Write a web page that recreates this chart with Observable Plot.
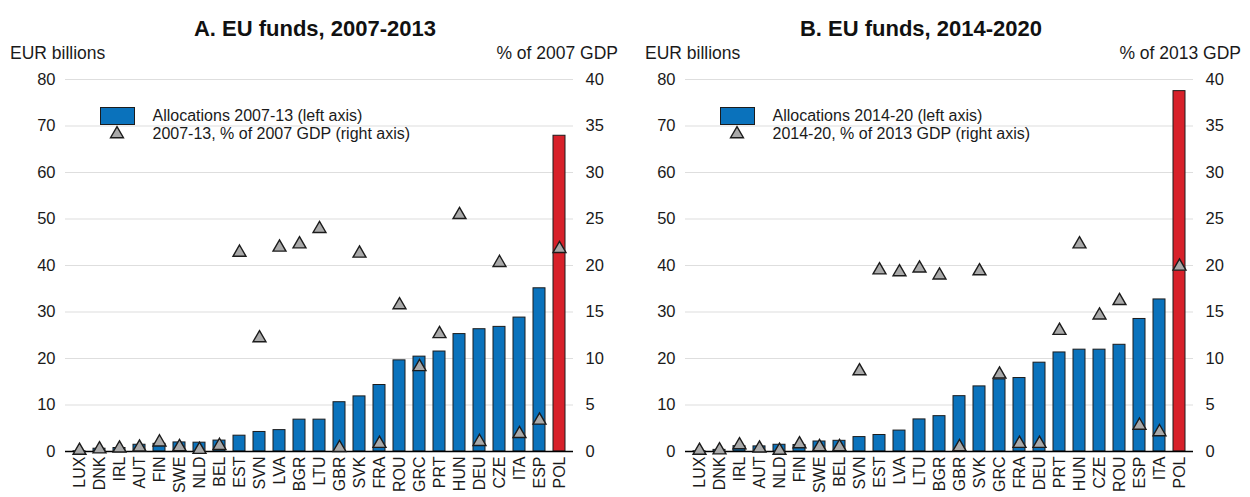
<!DOCTYPE html>
<html>
<head>
<meta charset="utf-8">
<script src="https://cdn.jsdelivr.net/npm/d3@7"></script>
<script src="https://cdn.jsdelivr.net/npm/@observablehq/plot@0.6"></script>
<style>
  html, body { margin: 0; padding: 0; background: #fff; }
  #wrap { position: relative; width: 1250px; height: 497px; overflow: hidden; font-family: "Liberation Sans", Arial, sans-serif; }
  .panel { position: absolute; top: 0; }
  #overlay { position: absolute; left: 0; top: 0; pointer-events: none; }
</style>
</head>
<body>
<div id="wrap">
  <div id="pA" class="panel" style="left:0px"></div>
  <div id="pB" class="panel" style="left:620px"></div>
  <svg id="overlay" width="1250" height="497"></svg>
</div>
<script>
// ---------- Data ----------
const catsA = ["LUX","DNK","IRL","AUT","FIN","SWE","NLD","BEL","EST","SVN","LVA","BGR","LTU","GBR","SVK","FRA","ROU","GRC","PRT","HUN","DEU","CZE","ITA","ESP","POL"];
const allocA = [0.05,0.6,0.75,1.45,1.65,1.95,1.9,2.35,3.4,4.2,4.6,6.85,6.85,10.6,11.85,14.3,19.6,20.4,21.5,25.25,26.3,26.8,28.8,35.1,67.9];
const pctA = [0.1,0.25,0.35,0.45,1.0,0.5,0.2,0.62,21.4,12.2,21.95,22.3,23.95,0.4,21.3,0.85,15.75,9.1,12.65,25.45,1.05,20.3,1.9,3.35,21.8];

const catsB = ["LUX","DNK","IRL","AUT","NLD","FIN","SWE","BEL","SVN","EST","LVA","LTU","BGR","GBR","SVK","GRC","FRA","DEU","PRT","HUN","CZE","ROU","ESP","ITA","POL"];
const allocB = [0.05,0.35,1.15,1.1,1.45,1.4,2.15,2.3,3.1,3.55,4.5,6.9,7.6,11.9,14.0,15.5,15.8,19.1,21.3,21.9,21.9,22.95,28.5,32.7,77.5];
const pctB = [0.1,0.15,0.7,0.35,0.1,0.8,0.5,0.5,8.65,19.5,19.3,19.7,18.95,0.5,19.4,8.3,0.85,0.85,13.0,22.3,14.65,16.2,2.8,2.1,19.9];

const leftTicks = [0,10,20,30,40,50,60,70,80];
const highlight = "POL";

const titles = ["A. EU funds, 2007-2013", "B. EU funds, 2014-2020"];
const leftLabels = ["EUR billions", "EUR billions"];
const rightLabels = ["% of 2007 GDP", "% of 2013 GDP"];
const legendBars = ["Allocations 2007-13 (left axis)", "Allocations 2014-20 (left axis)"];
const legendDots = ["2007-13, % of 2007 GDP (right axis)", "2014-20, % of 2013 GDP (right axis)"];

// ---------- Styling ----------
const BLUE = "#0a72bc";
const RED = "#d7212a";
const FONT = "Liberation Sans, Arial, sans-serif";

function panel(cats, alloc, pct, ml) {
  const data = cats.map((c, i) => ({cat: c, alloc: alloc[i], pct: pct[i]}));
  return Plot.plot({
    width: 630,
    height: 497,
    marginLeft: ml,
    marginRight: 630 - ml - 508,
    marginTop: 79,
    marginBottom: 46,
    style: {fontFamily: FONT, fontSize: "16.5px", color: "#1a1a1a", background: "transparent", overflow: "visible"},
    x: {domain: cats, paddingInner: 0.41, paddingOuter: 0.205, label: null},
    y: {domain: [0, 80], label: null},
    marks: [
      Plot.ruleY(leftTicks.filter(d => d > 0), {stroke: "#dedede", strokeWidth: 1.2}),
      Plot.barY(data, {x: "cat", y: "alloc", fill: d => d.cat === highlight ? RED : BLUE, stroke: "#1c1c1c", strokeWidth: 1}),
      Plot.ruleY([0], {stroke: "#000", strokeWidth: 1.6}),
      Plot.dot(data, {x: "cat", y: d => d.pct * 2, symbol: "triangle", r: 4.8, fill: "#a9a9a9", stroke: "#1c1c1c", strokeWidth: 1.4}),
      Plot.axisY({ticks: leftTicks, tickSize: 0, tickPadding: 10, fontSize: 16.5, label: null}),
      Plot.axisY({anchor: "right", ticks: leftTicks, tickFormat: d => String(d / 2), tickSize: 0, tickPadding: 12, fontSize: 16.5, label: null}),
      Plot.axisX({tickRotate: -90, tickSize: 0, tickPadding: 5, fontSize: 16, label: null})
    ]
  });
}

document.getElementById("pA").appendChild(panel(catsA, allocA, pctA, 65));
document.getElementById("pB").appendChild(panel(catsB, allocB, pctB, 65));

// ---------- Overlay text (titles, axis units, legends) ----------
const ov = d3.select("#overlay").style("font-family", FONT);
const titleX = [315, 921];
[0, 1].forEach(i => {
  ov.append("text").attr("x", titleX[i]).attr("y", 36).attr("text-anchor", "middle")
    .attr("font-size", 22).attr("font-weight", "bold").attr("fill", "#111").text(titles[i]);
  ov.append("text").attr("x", i ? 645 : 10).attr("y", 59).attr("font-size", 17.5).attr("fill", "#1a1a1a").text(leftLabels[i]);
  ov.append("text").attr("x", i ? 1241 : 618).attr("y", 59).attr("text-anchor", "end").attr("font-size", 17.5).attr("fill", "#1a1a1a").text(rightLabels[i]);
  const lx = i ? 720.5 : 100.5;
  ov.append("rect").attr("x", lx).attr("y", 107.5).attr("width", 34).attr("height", 17)
    .attr("fill", BLUE).attr("stroke", "#1c1c1c").attr("stroke-width", 1);
  ov.append("text").attr("x", lx + 52).attr("y", 121).attr("font-size", 16).attr("fill", "#1a1a1a").text(legendBars[i]);
  ov.append("path").attr("transform", `translate(${lx + 16.5},${134})`)
    .attr("d", d3.symbol(d3.symbolTriangle, Math.PI * 4.8 * 4.8)())
    .attr("fill", "#a9a9a9").attr("stroke", "#1c1c1c").attr("stroke-width", 1.4);
  ov.append("text").attr("x", lx + 52).attr("y", 139).attr("font-size", 16).attr("fill", "#1a1a1a").text(legendDots[i]);
});
</script>
</body>
</html>
